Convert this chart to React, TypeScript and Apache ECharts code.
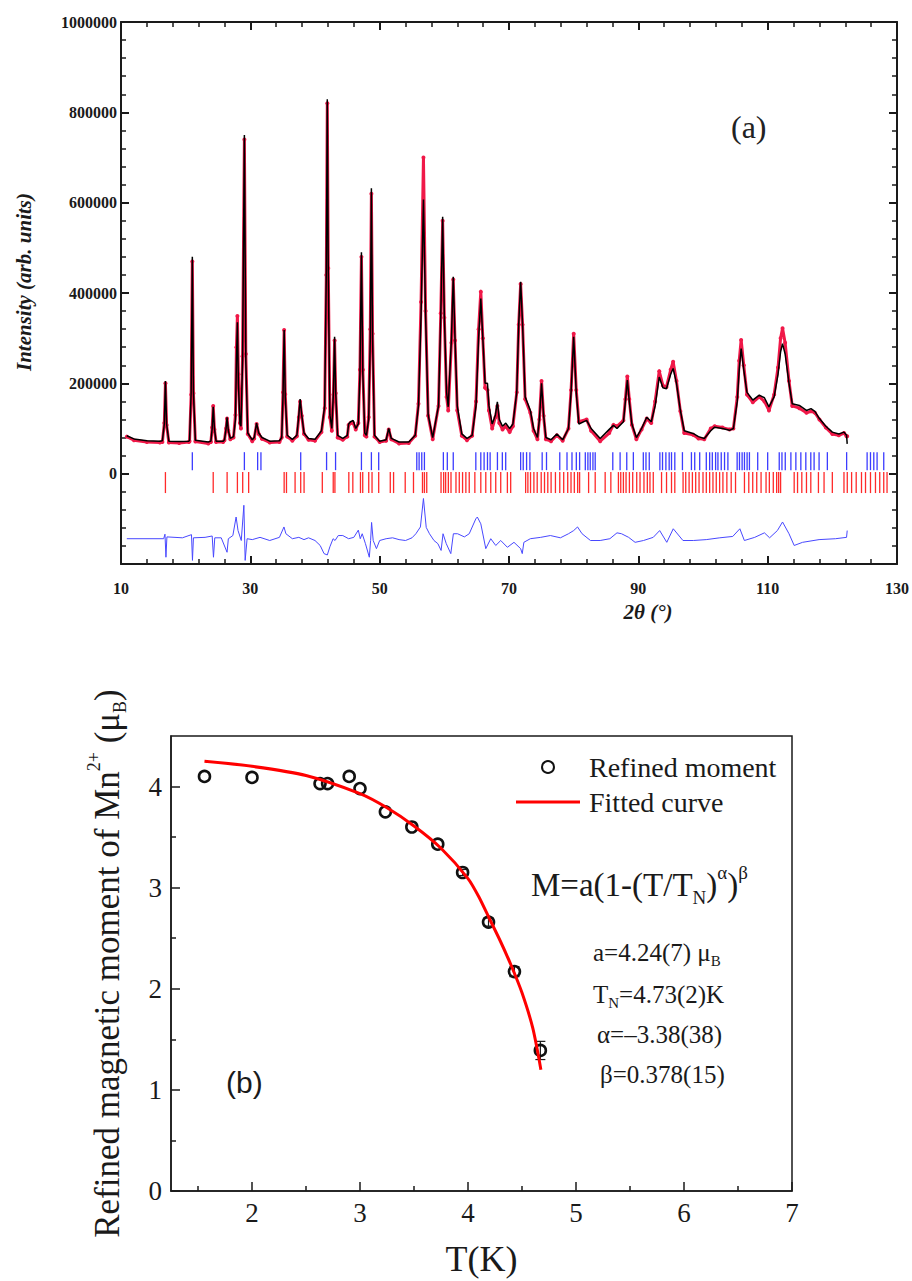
import React, { useEffect, useRef } from 'react';
import * as echarts from 'echarts';

// ---------- Panel (a): Rietveld refinement ----------
const twoTheta = [
  10.9, 12, 14, 16, 16.4, 16.7, 16.87, 17.05, 17.4, 19, 20.5, 20.6, 20.85, 21.03, 21.2, 21.5,
  23.5, 23.9, 24.1, 24.26, 24.45, 24.7, 25.8, 26.0, 26.25, 26.4, 26.6, 26.9, 27.4, 27.7, 27.85,
  28.0, 28.15, 28.4, 28.55, 28.8, 29.08, 29.3, 29.6, 30.3, 30.6, 30.97, 31.3, 31.8, 33, 34.5,
  34.85, 35.05, 35.23, 35.4, 35.7, 36.5, 37.2, 37.5, 37.7, 37.95, 38.3, 39, 40, 41, 41.5, 41.75,
  41.9, 42.05, 42.3, 42.6, 42.85, 43.03, 43.2, 43.5, 44.3, 45.0, 45.2, 45.5, 45.9, 46.3, 46.7,
  46.95, 47.18, 47.4, 47.7, 47.95, 48.3, 48.55, 48.72, 48.9, 49.2, 50, 51.0, 51.4, 51.8, 53, 54.5,
  55.5, 56.0, 56.4, 56.77, 57.1, 57.5, 58.2, 59.1, 59.45, 59.74, 60.0, 60.35, 60.6, 61.1, 61.38,
  61.65, 62.0, 62.7, 63.5, 64.3, 64.9, 65.3, 65.64, 65.95, 66.3, 66.67, 66.9, 67.4, 67.9, 68.2,
  68.5, 69.0, 69.5, 70.1, 70.6, 71.2, 71.5, 71.8, 72.1, 72.5, 73.3, 73.8, 74.4, 74.7, 75.03, 75.35,
  75.7, 76.5, 77.4, 78.3, 79.2, 79.6, 80.0, 80.4, 80.8, 82.0, 82.7, 84.1, 85.5, 86.15, 86.7, 87.7,
  88.0, 88.3, 88.6, 89.0, 89.7, 90.5, 91.3, 92.0, 92.6, 93.23, 93.8, 94.35, 95.0, 95.38, 95.9,
  96.5, 97.1, 98.46, 99.3, 100.2, 101.2, 101.8, 103.0, 104.1, 104.7, 105.3, 105.6, 105.9, 106.3,
  106.8, 107.7, 108.7, 109.5, 110.2, 111.0, 111.6, 112.0, 112.3, 112.7, 113.3, 113.8, 114.9,
  116.0, 116.7, 117.3, 118.0, 119.0, 120.0, 121.0, 121.8, 122.2, 122.3
];

const yCalc = [
  84000, 77000, 73000, 72000, 73000, 110000, 205000, 110000, 72000, 71000, 72000, 74000, 180000, 480000, 180000, 74000,
  70000, 72000, 100000, 148000, 100000, 72000, 72000, 75000, 100000, 125000, 95000, 78000, 82000, 120000, 250000,
  335000, 200000, 110000, 105000, 250000, 750000, 250000, 90000, 75000, 80000, 112000, 90000, 80000, 72000, 73000,
  80000, 170000, 318000, 170000, 85000, 76000, 85000, 130000, 165000, 130000, 90000, 78000, 76000, 95000, 150000, 450000,
  829000, 450000, 130000, 100000, 180000, 303000, 180000, 85000, 78000, 85000, 110000, 115000, 118000, 100000, 110000,
  220000, 490000, 220000, 90000, 85000, 120000, 300000, 632000, 300000, 85000, 72000, 75000, 100000, 78000, 70000, 70000,
  85000, 150000, 350000, 607000, 350000, 130000, 80000, 150000, 350000, 569000, 350000, 180000, 148000, 300000, 436000,
  300000, 150000, 88000, 78000, 85000, 150000, 300000, 388000, 300000, 200000, 200000, 150000, 110000, 130000, 159000,
  120000, 105000, 112000, 100000, 110000, 180000, 330000, 425000, 330000, 170000, 140000, 100000, 80000, 120000, 200000, 130000,
  80000, 75000, 88000, 75000, 100000, 180000, 303000, 180000, 110000, 118000, 100000, 78000, 98000, 107000, 100000, 115000,
  160000, 207000, 160000, 110000, 80000, 100000, 125000, 115000, 150000, 214000, 190000, 188000, 220000, 233000, 200000,
  140000, 95000, 89000, 82000, 78000, 95000, 103000, 100000, 96000, 100000, 160000, 230000, 277000, 230000,
  180000, 163000, 174000, 168000, 148000, 170000, 220000, 270000, 288000, 265000, 200000, 155000, 151000,
  140000, 144000, 138000, 122000, 105000, 92000, 88000, 92000, 85000, 66000
];

const yObs = [
  82000, 74000, 70000, 69000, 70000, 112000, 200000, 108000, 69000, 68000, 70000, 72000, 175000, 470000, 178000, 71000,
  67000, 70000, 102000, 150000, 98000, 70000, 70000, 74000, 100000, 122000, 95000, 76000, 80000, 130000, 280000,
  349000, 220000, 112000, 100000, 260000, 740000, 265000, 88000, 72000, 78000, 110000, 88000, 77000, 69000, 70000,
  80000, 180000, 318000, 176000, 82000, 73000, 83000, 125000, 160000, 128000, 88000, 75000, 73000, 92000, 145000, 440000,
  820000, 455000, 125000, 95000, 175000, 295000, 178000, 80000, 75000, 82000, 108000, 112000, 112000, 98000, 112000,
  230000, 480000, 230000, 85000, 82000, 125000, 320000, 620000, 310000, 82000, 70000, 73000, 98000, 76000, 67000, 68000,
  84000, 155000, 380000, 700000, 360000, 128000, 76000, 150000, 355000, 560000, 345000, 170000, 140000, 290000, 430000,
  295000, 140000, 84000, 74000, 84000, 160000, 320000, 403000, 300000, 190000, 185000, 140000, 100000, 125000, 150000,
  112000, 98000, 105000, 92000, 105000, 180000, 330000, 420000, 330000, 165000, 135000, 95000, 76000, 120000, 205000, 128000,
  76000, 72000, 85000, 73000, 100000, 185000, 310000, 185000, 115000, 120000, 95000, 72000, 90000, 108000, 105000, 118000,
  165000, 215000, 165000, 108000, 76000, 98000, 122000, 112000, 160000, 227000, 195000, 192000, 230000, 248000, 205000,
  138000, 90000, 86000, 78000, 76000, 100000, 105000, 102000, 98000, 100000, 170000, 250000, 296000, 240000,
  175000, 158000, 170000, 160000, 140000, 175000, 235000, 300000, 322000, 290000, 205000, 150000, 145000,
  135000, 138000, 135000, 120000, 102000, 88000, 85000, 90000, 83000, 83000
];

const diffTheta = [
  10.9, 16.6, 16.8, 16.95, 17.1, 19.5, 20.9, 21.05, 21.2, 23.0, 24.1, 24.3, 24.5, 25.5, 26.4, 26.6,
  27.3, 27.8, 28.1, 28.6, 29.0, 29.2, 29.5, 30.3, 31.5, 33, 34.5, 35.2, 35.5, 36.5, 37.5, 38.3, 39,
  40, 40.8, 41.4, 41.9, 42.3, 42.8, 43.1, 43.6, 44.3, 45.2, 46.0, 46.7, 47.0, 47.3, 47.8, 48.4, 48.6,
  48.75, 49.0, 49.5, 50, 51, 52, 53, 54, 55, 55.6, 56.3, 56.77, 57.2, 57.7, 58.4, 59.0, 59.5, 59.8,
  60.3, 61.0, 61.4, 62.05, 63.1, 63.85, 64.87, 65.1, 65.64, 66.41, 67.18, 67.95, 68.72, 69.75, 70.77,
  71.8, 72.05, 72.3, 73.3, 74.9, 76.4, 77.95, 79.2, 80.0, 80.6, 81.3, 82.6, 84.1, 85.6, 86.7, 87.4,
  88.5, 89.5, 90.8, 92.3, 93.3, 94.4, 95.4, 96.9, 98.5, 100.5, 102.6, 104.6, 105.7, 106.4, 108.0,
  109.5, 110.3, 111.5, 112.3, 113.3, 114.1, 115.4, 117.95, 120.5, 122.2, 122.3
];

const yDiff = [
  -144000, -144000, -134000, -185000, -140000, -142000, -135000, -192000, -142000, -141000, -138000, -185000, -142000, -142000, -174000, -144000,
  -137000, -96000, -126000, -148000, -70000, -192000, -144000, -146000, -141000, -148000, -141000, -118000, -133000, -144000, -141000, -146000, -142000,
  -148000, -159000, -177000, -180000, -162000, -144000, -148000, -137000, -137000, -144000, -141000, -125000, -144000, -133000, -155000, -185000, -148000,
  -108000, -148000, -166000, -148000, -144000, -142000, -146000, -148000, -142000, -133000, -118000, -55000, -119000, -133000, -148000, -155000, -170000, -133000,
  -155000, -177000, -133000, -133000, -140000, -133000, -100000, -96000, -111000, -166000, -144000, -159000, -148000, -163000, -152000,
  -166000, -177000, -152000, -144000, -141000, -137000, -142000, -133000, -126000, -118000, -133000, -148000, -148000, -144000, -131000, -133000,
  -141000, -152000, -148000, -141000, -126000, -152000, -122000, -148000, -148000, -146000, -142000, -139000, -122000, -148000, -141000,
  -131000, -142000, -126000, -107000, -133000, -159000, -152000, -146000, -144000, -141000, -126000
];

// Bragg reflection positions (2θ) for the two phases
const braggBlue = [
  21.03, 29.08, 31.13, 31.64, 37.79, 41.79, 43.18, 47.18, 48.72, 49.85, 55.74, 56.1, 56.51, 56.92,
  59.85, 60.46, 61.38, 64.87, 65.64, 66.15, 66.67, 67.08, 68.21, 68.97, 69.49, 71.8, 72.2, 72.72,
  73.23, 75.13, 75.8, 77.85, 78.97, 79.74, 80.41, 80.92, 81.8, 82.2, 82.56, 82.98, 83.33, 86.05,
  87.18, 88.21, 89.23, 90.77, 91.18, 91.69, 93.33, 93.74, 94.26, 94.77, 95.13, 95.64, 96.82, 98.21,
  98.72, 99.49, 100.51, 101.03, 101.44, 101.95, 102.31, 102.82, 103.33, 103.85, 105.28, 105.64,
  106.05, 106.41, 106.82, 107.18, 108.46, 110.0, 111.79, 112.21, 112.72, 113.59, 114.36, 115.13,
  115.9, 116.67, 117.18, 117.95, 119.23, 122.21, 125.38, 125.9, 126.41, 126.92, 127.95
];
const braggRed = [
  16.87, 24.26, 26.41, 28.0, 28.82, 29.74, 35.23, 35.59, 36.92, 37.79, 38.31, 41.13, 42.82, 43.08,
  45.23, 45.85, 47.03, 47.38, 48.31, 48.82, 49.85, 51.64, 52.15, 53.95, 55.23, 56.62, 56.92, 57.28,
  59.49, 59.9, 60.2, 60.62, 61.03, 61.8, 62.31, 62.82, 63.33, 63.85, 64.72, 65.64, 66.41, 67.18,
  67.95, 68.72, 69.75, 70.26, 72.57, 72.92, 73.33, 73.85, 74.36, 74.98, 75.49, 76.0, 76.51, 77.18,
  77.85, 78.46, 79.08, 79.59, 80.1, 80.62, 80.92, 82.31, 83.33, 84.87, 85.75, 86.92, 87.28, 87.69,
  88.1, 88.62, 89.13, 89.75, 90.26, 90.87, 91.39, 91.8, 92.31, 93.59, 94.36, 95.13, 95.64, 96.92,
  97.33, 97.85, 98.36, 98.87, 99.39, 100.0, 100.51, 101.03, 101.54, 102.05, 102.57, 103.08, 103.69,
  104.36, 105.03, 106.41, 107.08, 107.69, 108.31, 108.98, 109.75, 110.26, 110.87, 111.39, 111.7,
  112.0, 114.1, 114.62, 115.28, 116.0, 116.67, 117.85, 118.72, 120.0, 121.8, 122.31, 122.98, 123.69,
  124.51, 125.13, 125.9, 126.67, 127.33, 127.95, 128.46
];
const braggBlueLevel = 27700;
const braggRedLevel = -19700;

// ---------- Panel (b): refined moment ----------
const tempK = [1.56, 2.0, 2.63, 2.70, 2.90, 3.00, 3.235, 3.48, 3.72, 3.95, 4.19, 4.43, 4.67];
const moment = [4.10, 4.09, 4.03, 4.03, 4.10, 3.98, 3.75, 3.60, 3.43, 3.15, 2.66, 2.17, 1.39];
const momentErr = [0, 0, 0, 0, 0, 0, 0, 0, 0, 0.03, 0.04, 0.05, 0.09];
const fitT = [1.56, 2.0, 2.5, 3.0, 3.25, 3.5, 3.75, 4.0, 4.1, 4.2, 4.3, 4.4, 4.5, 4.6, 4.675];
const fitM = [4.25, 4.20, 4.11, 3.93, 3.79, 3.61, 3.39, 3.09, 2.91, 2.69, 2.47, 2.23, 1.96, 1.61, 1.20];

const bMajorX = [2, 3, 4, 5, 6, 7];
const bMinorX = [1.5, 2.5, 3.5, 4.5, 5.5, 6.5];
const bMajorY = [0, 1, 2, 3, 4];
const bMinorY = [0.5, 1.5, 2.5, 3.5];

const SERIF = 'Liberation Serif';
const INK = '#1a1a1a';

function buildOption() {
  const axA = (extra: any) => ({
    type: 'value',
    gridIndex: 0,
    axisLine: { show: true, onZero: false, lineStyle: { color: INK, width: 2 } },
    axisTick: { show: true, inside: true, length: 8, lineStyle: { color: INK, width: 2 } },
    minorTick: { show: true, splitNumber: 5, length: 5, lineStyle: { color: INK, width: 1.5 } },
    splitLine: { show: false },
    ...extra,
  });
  const labA = { fontFamily: SERIF, fontWeight: 'bold', fontSize: 16, color: INK };

  const axB = (extra: any) => ({
    type: 'value',
    gridIndex: 1,
    axisLine: { show: true, onZero: false, lineStyle: { color: INK, width: 1.5 } },
    splitLine: { show: false },
    ...extra,
  });

  return {
    animation: false,
    backgroundColor: '#ffffff',
    grid: [
      { left: 121, top: 22, width: 780, height: 542 },
      { left: 171, top: 736, width: 621, height: 455, show: true, borderColor: INK, borderWidth: 1.5, backgroundColor: 'transparent' },
    ],
    legend: {
      data: [
        { name: 'Refined moment' },
        { name: 'Fitted curve', icon: 'path://M0,0 H64 V3 H0 Z' },
      ],
      orient: 'vertical',
      left: 516,
      top: 753,
      padding: 0,
      itemWidth: 64,
      itemHeight: 12,
      itemGap: 7,
      selectedMode: false,
      textStyle: { fontFamily: SERIF, fontSize: 28, color: INK, padding: [0, 0, 0, 4] },
    },
    xAxis: [
      axA({
        position: 'bottom', min: 10, max: 130, interval: 20,
        axisLabel: { ...labA, margin: 16 },
      }),
      axA({
        position: 'top', min: 10, max: 130, interval: 20,
        axisLabel: { show: false },
      }),
      axB({
        position: 'bottom', min: 1.25, max: 7,
        axisTick: { show: true, inside: true, length: 9, customValues: bMajorX, lineStyle: { color: INK, width: 1.5 } },
        axisLabel: { customValues: bMajorX, fontFamily: SERIF, fontSize: 27, color: INK, margin: 8 },
        name: 'T(K)', nameLocation: 'middle', nameGap: 50, nameMoveOverlap: false,
        nameTextStyle: { fontFamily: SERIF, fontSize: 36, color: INK },
      }),
      axB({
        position: 'bottom', min: 1.25, max: 7,
        axisLine: { show: false },
        axisTick: { show: true, inside: true, length: 5, customValues: bMinorX, lineStyle: { color: INK, width: 1.5 } },
        axisLabel: { show: false },
      }),
    ],
    yAxis: [
      axA({
        position: 'left', min: -200000, max: 1000000, interval: 200000,
        axisLabel: { ...labA, margin: 4, formatter: (v: number) => (v < 0 ? '' : String(v)) },
        name: 'Intensity (arb. units)', nameLocation: 'middle', nameGap: 87, nameMoveOverlap: false,
        nameTextStyle: { fontFamily: SERIF, fontWeight: 'bold', fontStyle: 'italic', fontSize: 21, color: INK, padding: [0, 0, 0, 22] },
      }),
      axA({
        position: 'right', min: -200000, max: 1000000, interval: 200000,
        axisLabel: { show: false },
      }),
      axB({
        position: 'left', min: 0, max: 4.5,
        axisTick: { show: true, inside: true, length: 9, customValues: bMajorY, lineStyle: { color: INK, width: 1.5 } },
        axisLabel: { customValues: bMajorY, fontFamily: SERIF, fontSize: 27, color: INK, margin: 9 },
        name: 'Refined magnetic moment of Mn{sup|2+} (μ{sub|B})',
        nameLocation: 'middle', nameGap: 42, nameMoveOverlap: false,
        nameTextStyle: {
          fontFamily: SERIF, fontSize: 35, color: INK, lineHeight: 44,
          rich: {
            sup: { fontFamily: SERIF, fontSize: 18, color: INK, verticalAlign: 'top', lineHeight: 44 },
            sub: { fontFamily: SERIF, fontSize: 18, color: INK, verticalAlign: 'bottom', lineHeight: 44 },
          },
        },
      }),
      axB({
        position: 'left', min: 0, max: 4.5,
        axisLine: { show: false },
        axisTick: { show: true, inside: true, length: 5, customValues: bMinorY, lineStyle: { color: INK, width: 1.5 } },
        axisLabel: { show: false },
      }),
    ],
    series: [
      {
        name: 'Observed', type: 'line', xAxisIndex: 0, yAxisIndex: 0,
        data: twoTheta.map((x, i) => [x, yObs[i]]),
        symbol: 'circle', symbolSize: 4, showSymbol: true,
        lineStyle: { color: '#f01848', width: 3 },
        itemStyle: { color: '#f01848' },
        z: 2,
      },
      {
        name: 'Calculated', type: 'line', xAxisIndex: 0, yAxisIndex: 0,
        data: twoTheta.map((x, i) => [x, yCalc[i]]),
        symbol: 'none', lineStyle: { color: '#000000', width: 1.5 }, z: 3,
      },
      {
        name: 'Difference', type: 'line', xAxisIndex: 0, yAxisIndex: 0,
        data: diffTheta.map((x, i) => [x, yDiff[i]]),
        symbol: 'none', lineStyle: { color: '#4848ff', width: 1 }, z: 3,
      },
      {
        name: 'Bragg phase 1', type: 'scatter', xAxisIndex: 0, yAxisIndex: 0,
        data: braggBlue.map((x) => [x, braggBlueLevel]),
        symbol: 'rect', symbolSize: [1.3, 18], itemStyle: { color: '#3c3cff', opacity: 1 },
      },
      {
        name: 'Bragg phase 2', type: 'scatter', xAxisIndex: 0, yAxisIndex: 0,
        data: braggRed.map((x) => [x, braggRedLevel]),
        symbol: 'rect', symbolSize: [1.3, 21], itemStyle: { color: '#ff2a2a', opacity: 1 },
      },
      {
        name: 'Error', type: 'custom', xAxisIndex: 2, yAxisIndex: 2,
        data: tempK.map((t, i) => [t, moment[i], momentErr[i]]),
        encode: { x: 0, y: 1 },
        renderItem: (params: any, api: any) => {
          const x = api.value(0);
          const y = api.value(1);
          const e = api.value(2);
          if (!e) return { type: 'group', children: [] };
          const p1 = api.coord([x, y + e]);
          const p2 = api.coord([x, y - e]);
          const w = 5;
          const st = { stroke: INK, lineWidth: 1.2 };
          return {
            type: 'group',
            children: [
              { type: 'line', shape: { x1: p1[0], y1: p1[1], x2: p2[0], y2: p2[1] }, style: st },
              { type: 'line', shape: { x1: p1[0] - w, y1: p1[1], x2: p1[0] + w, y2: p1[1] }, style: st },
              { type: 'line', shape: { x1: p2[0] - w, y1: p2[1], x2: p2[0] + w, y2: p2[1] }, style: st },
            ],
          };
        },
        z: 3,
      },
      {
        name: 'Refined moment', type: 'scatter', xAxisIndex: 2, yAxisIndex: 2,
        data: tempK.map((t, i) => [t, moment[i]]),
        symbol: 'circle', symbolSize: 11,
        itemStyle: { color: 'rgba(255,255,255,0)', borderColor: '#111111', borderWidth: 2.6, opacity: 1 },
        z: 4,
      },
      {
        name: 'Fitted curve', type: 'line', xAxisIndex: 2, yAxisIndex: 2,
        data: fitT.map((t, i) => [t, fitM[i]]),
        smooth: 0.25, symbol: 'none',
        lineStyle: { color: '#ff0000', width: 3 },
        itemStyle: { color: '#ff0000' },
        z: 5,
      },
    ],
    graphic: [
      {
        type: 'text', x: 731, y: 127,
        style: { text: '(a)', fontFamily: SERIF, fontSize: 32, fill: '#222', align: 'left', verticalAlign: 'middle', textAlign: 'left', textVerticalAlign: 'middle' },
      },
      {
        type: 'text', x: 648, y: 612,
        style: { text: '2θ (°)', fontFamily: SERIF, fontSize: 21, fontWeight: 'bold', fontStyle: 'italic', fill: INK, align: 'center', verticalAlign: 'middle', textAlign: 'center', textVerticalAlign: 'middle' },
      },
      {
        type: 'text', x: 531, y: 885,
        style: {
          text: 'M=a(1-(T/T{sub|N}){sup|α}){sup|β}',
          fontFamily: SERIF, fontSize: 33, fill: INK, align: 'left', verticalAlign: 'middle', textAlign: 'left', textVerticalAlign: 'middle',
          rich: {
            sub: { fontFamily: SERIF, fontSize: 19, fill: INK, verticalAlign: 'bottom', lineHeight: 44 },
            sup: { fontFamily: SERIF, fontSize: 19, fill: INK, verticalAlign: 'top', lineHeight: 44 },
          },
        },
      },
      {
        type: 'text', x: 593, y: 952,
        style: {
          text: 'a=4.24(7) μ{sub|B}', fontFamily: SERIF, fontSize: 25, fill: INK, align: 'left', verticalAlign: 'middle', textAlign: 'left', textVerticalAlign: 'middle',
          rich: { sub: { fontFamily: SERIF, fontSize: 15, fill: INK, verticalAlign: 'bottom', lineHeight: 32 } },
        },
      },
      {
        type: 'text', x: 593, y: 994,
        style: {
          text: 'T{sub|N}=4.73(2)K', fontFamily: SERIF, fontSize: 25, fill: INK, align: 'left', verticalAlign: 'middle', textAlign: 'left', textVerticalAlign: 'middle',
          rich: { sub: { fontFamily: SERIF, fontSize: 15, fill: INK, verticalAlign: 'bottom', lineHeight: 32 } },
        },
      },
      {
        type: 'text', x: 597, y: 1034,
        style: { text: 'α=–3.38(38)', fontFamily: SERIF, fontSize: 25, fill: INK, align: 'left', verticalAlign: 'middle', textAlign: 'left', textVerticalAlign: 'middle' },
      },
      {
        type: 'text', x: 600, y: 1074,
        style: { text: 'β=0.378(15)', fontFamily: SERIF, fontSize: 25, fill: INK, align: 'left', verticalAlign: 'middle', textAlign: 'left', textVerticalAlign: 'middle' },
      },
      {
        type: 'text', x: 226, y: 1082,
        style: { text: '(b)', fontFamily: 'Liberation Sans', fontSize: 30, fill: INK, align: 'left', verticalAlign: 'middle', textAlign: 'left', textVerticalAlign: 'middle' },
      },
    ],
  };
}

export default function App() {
  const ref = useRef<HTMLDivElement>(null);
  useEffect(() => {
    if (!ref.current) return;
    const chart = echarts.init(ref.current, null, { renderer: 'svg' });
    chart.setOption(buildOption() as any);
    return () => chart.dispose();
  }, []);
  return (
    <div
      ref={ref}
      style={{ position: 'absolute', left: 0, top: 0, width: 912, height: 1281, background: '#fff' }}
    />
  );
}
